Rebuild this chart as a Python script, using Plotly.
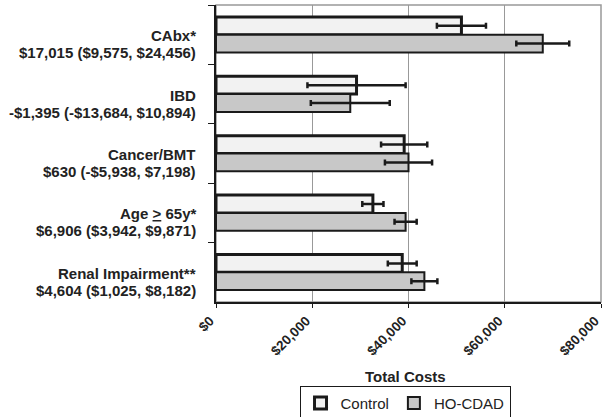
import plotly.graph_objects as go

categories = ["CAbx", "IBD", "Cancer", "Age", "Renal"]
label_line1 = ["CAbx*", "IBD", "Cancer/BMT", "Age <u>&gt;</u> 65y*", "Renal Impairment**"]
label_line2 = ["$17,015 ($9,575, $24,456)", "-$1,395 (-$13,684, $10,894)",
               "$630 (-$5,938, $7,198)", "$6,906 ($3,942, $9,871)", "$4,604 ($1,025, $8,182)"]

control = [51000, 29200, 39100, 32600, 38700]
control_err = [5100, 10200, 4800, 2200, 3000]
hocdad = [67900, 27900, 40000, 39400, 43300]
hocdad_err = [5500, 8200, 4900, 2300, 2700]

xticks = [0, 20000, 40000, 60000, 80000]
xticklabels = ["$0", "$20,000", "$40,000", "$60,000", "$80,000"]

FONT = "Liberation Sans, Arial, sans-serif"
DARK = "#1a1a1a"

fig = go.Figure()
fig.add_trace(go.Bar(
    name="Control", y=categories, x=control, orientation="h",
    marker=dict(color="#f2f2f2", line=dict(color=DARK, width=3)),
    error_x=dict(type="data", array=control_err, color=DARK, thickness=2.5, width=3),
))
fig.add_trace(go.Bar(
    name="HO-CDAD", y=categories, x=hocdad, orientation="h",
    marker=dict(color="#c8c8c8", line=dict(color=DARK, width=2)),
    error_x=dict(type="data", array=hocdad_err, color=DARK, thickness=2.5, width=3),
))

annotations = []
for c, l1, l2 in zip(categories, label_line1, label_line2):
    annotations.append(dict(x=0, xref="paper", y=c, yref="y", text="<b>%s</b>" % l1,
                            xanchor="right", yanchor="middle", xshift=-18, yshift=-1,
                            showarrow=False, font=dict(family=FONT, size=15, color="#222")))
    annotations.append(dict(x=0, xref="paper", y=c, yref="y", text="<b>%s</b>" % l2,
                            xanchor="right", yanchor="middle", xshift=-18, yshift=-18,
                            showarrow=False, font=dict(family=FONT, size=15, color="#222")))
annotations.append(dict(x=0.491, xref="paper", y=-0.2525, yref="paper", text="<b>Total Costs</b>",
                        xanchor="center", yanchor="middle", showarrow=False,
                        font=dict(family=FONT, size=15, color="#222")))

fig.update_layout(
    width=602, height=417,
    margin=dict(l=216, r=1, t=5, b=115, autoexpand=False),
    paper_bgcolor="white", plot_bgcolor="white",
    barmode="group", bargap=0.4, bargroupgap=0,
    font=dict(family=FONT, color="#222"),
    showlegend=True,
    legend=dict(orientation="h", x=0.491, xanchor="center", yref="container", y=0.075, yanchor="top",
                bordercolor=DARK, borderwidth=1, font=dict(size=15, family=FONT, color="#222"),
                itemwidth=30, traceorder="normal"),
    annotations=annotations,
    shapes=[dict(type="rect", xref="paper", yref="paper", x0=0, x1=1, y0=0, y1=1,
                 line=dict(color="#999", width=1.5), layer="below")],
)
fig.update_xaxes(range=[0, 80000], tickvals=xticks, ticktext=["<b>%s</b>" % t for t in xticklabels],
                 tickangle=-45, tickfont=dict(size=13.5, family=FONT, color="#222"),
                 ticklabeloverflow="allow", ticklabelshift=-6,
                 showgrid=True, gridcolor="#999", gridwidth=1.2,
                 showline=True, linecolor=DARK, linewidth=1.5,
                 ticks="outside", ticklen=4, tickcolor=DARK, zeroline=False, fixedrange=True)
fig.update_yaxes(autorange="reversed", type="category", showticklabels=False,
                 tickson="boundaries", ticks="outside", ticklen=6, tickcolor=DARK,
                 showline=True, linecolor=DARK, linewidth=1.5, showgrid=False, fixedrange=True)

fig.write_html("out.html", post_script="document.body.style.margin='0';",
               config={"displayModeBar": False})
